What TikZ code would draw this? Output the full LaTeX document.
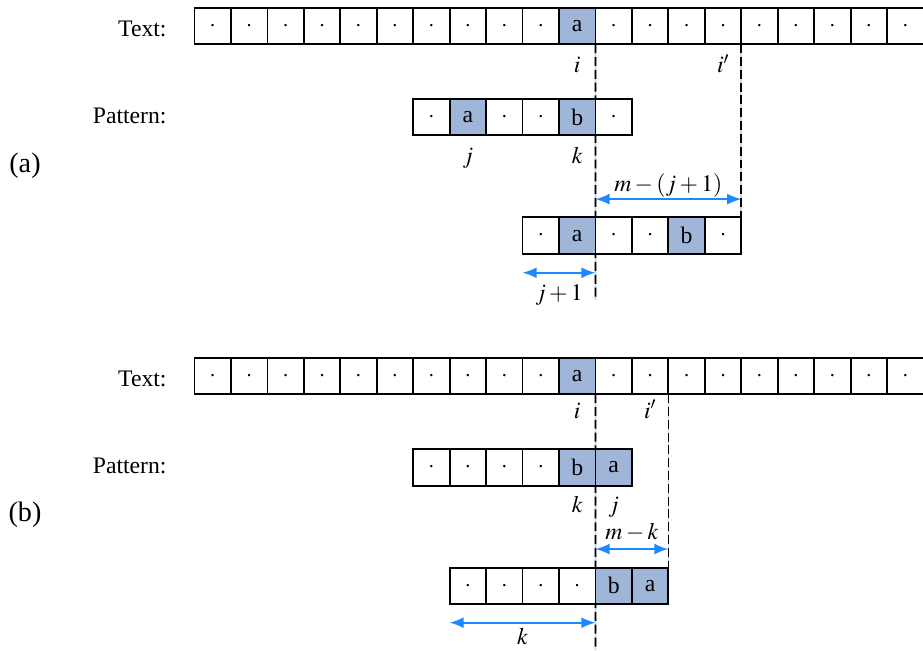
\documentclass[tikz,border=0pt]{standalone}
\usepackage{mathptmx}
\usepackage{fontspec}
\setmainfont{Liberation Serif}
\usetikzlibrary{arrows.meta}
\usetikzlibrary{backgrounds}
\definecolor{cellblue}{HTML}{9FB6D9}
\definecolor{arrowblue}{HTML}{1E88FF}
\definecolor{guideblue}{HTML}{C8D8F0}

\begin{document}
\begin{tikzpicture}[x=1cm,y=1cm,
  every node/.style={font=\fontsize{18.5}{22}\selectfont},
  cell/.style={draw,line width=1.4pt,fill=white,minimum size=1cm,inner sep=0pt,outer sep=0pt},
  hl/.style={cell,fill=cellblue},
  guide/.style={line width=1.3pt,dash pattern=on 7pt off 3pt},
  guideback/.style={guideblue,line width=1.3pt},
  dim/.style={arrowblue,line width=1.3pt,{Latex[length=11pt,width=8.5pt]}-{Latex[length=11pt,width=8.5pt]}},
  lbl/.style={inner sep=0pt,anchor=base},
  caption/.style={inner sep=0pt,font=\fontsize{22}{26}\selectfont}]
\useasboundingbox (-5.336,0.713) rectangle (19.986,-17.12);

% (a)
\node[caption] (capa) at (-4.65,-3.84) {(a)};
\node[inner sep=0pt,anchor=base east] (texta) at (-0.76,-0.29) {Text:};
\node[inner sep=0pt,anchor=base east] (pata) at (-0.76,-2.68) {Pattern:};
\foreach \n in {0,...,19}{
  \ifnum\n=10 \node[hl] (ta\n) at (\n+0.5,0) {a};
  \else \node[cell] (ta\n) at (\n+0.5,0) {$\cdot$};\fi
}
\foreach \s/\c [count=\n from 6] in {cell/$\cdot$,hl/a,cell/$\cdot$,cell/$\cdot$,hl/b,cell/$\cdot$}
  \node[\s] (pa\n) at (\n+0.5,-2.5) {\c};
\foreach \s/\c [count=\n from 9] in {cell/$\cdot$,hl/a,cell/$\cdot$,cell/$\cdot$,hl/b,cell/$\cdot$}
  \node[\s] (sa\n) at (\n+0.5,-5.75) {\c};
\node[lbl] (ia) at (10.5,-1.28) {$i$};
\node[lbl] (ipa) at (14.5,-1.28) {$i'$};
\node[lbl] (ja) at (7.5,-3.77) {$j$};
\node[lbl] (ka) at (10.5,-3.77) {$k$};
\coordinate (enda) at (11,-7.52);
\begin{scope}[on background layer]
  \draw[guideback] (ta10.south east) -- (enda);
  \draw[guide] (ta10.south east) -- (enda);
  \draw[guideback] (ta14.south east) -- (sa14.north east);
  \draw[guide] (ta14.south east) -- (sa14.north east);
\end{scope}
\draw[dim] (ta10.south east |- 0,-4.75) -- (ta14.south east |- 0,-4.75);
\node[lbl] (ma) at (13,-4.55) {$m-(j+1)$};
\draw[dim] (sa9.south west |- 0,-6.77) -- (sa10.south east |- 0,-6.77);
\node[lbl] (jpa) at (10,-7.52) {$j+1$};

% (b)
\node[caption] (capb) at (-4.65,-13.42) {(b)};
\node[inner sep=0pt,anchor=base east] (textb) at (-0.76,-9.89) {Text:};
\node[inner sep=0pt,anchor=base east] (patb) at (-0.76,-12.28) {Pattern:};
\foreach \n in {0,...,19}{
  \ifnum\n=10 \node[hl] (tb\n) at (\n+0.5,-9.6) {a};
  \else \node[cell] (tb\n) at (\n+0.5,-9.6) {$\cdot$};\fi
}
\foreach \s/\c [count=\n from 6] in {cell/$\cdot$,cell/$\cdot$,cell/$\cdot$,cell/$\cdot$,hl/b,hl/a}
  \node[\s] (pb\n) at (\n+0.5,-12.11) {\c};
\foreach \s/\c [count=\n from 7] in {cell/$\cdot$,cell/$\cdot$,cell/$\cdot$,cell/$\cdot$,hl/b,hl/a}
  \node[\s] (sb\n) at (\n+0.5,-15.36) {\c};
\node[lbl] (ib) at (10.5,-10.76) {$i$};
\node[lbl] (ipb) at (12.5,-10.76) {$i'$};
\node[lbl] (kb) at (10.5,-13.36) {$k$};
\node[lbl] (jb) at (11.5,-13.36) {$j$};
\coordinate (endb) at (11,-17.12);
\begin{scope}[on background layer]
  \draw[guideback] (tb10.south east) -- (endb);
  \draw[guide] (tb10.south east) -- (endb);
  \draw[guideback] (tb12.south east) -- (sb12.north east);
  \draw[guide] (tb12.south east) -- (sb12.north east);
\end{scope}
\draw[dim] (tb10.south east |- 0,-14.35) -- (tb12.south east |- 0,-14.35);
\node[lbl] (mb) at (12,-14.1) {$m-k$};
\draw[dim] (sb7.south west |- 0,-16.37) -- (sb10.south east |- 0,-16.37);
\node[lbl] (kpb) at (9,-16.96) {$k$};
\end{tikzpicture}
\end{document}
